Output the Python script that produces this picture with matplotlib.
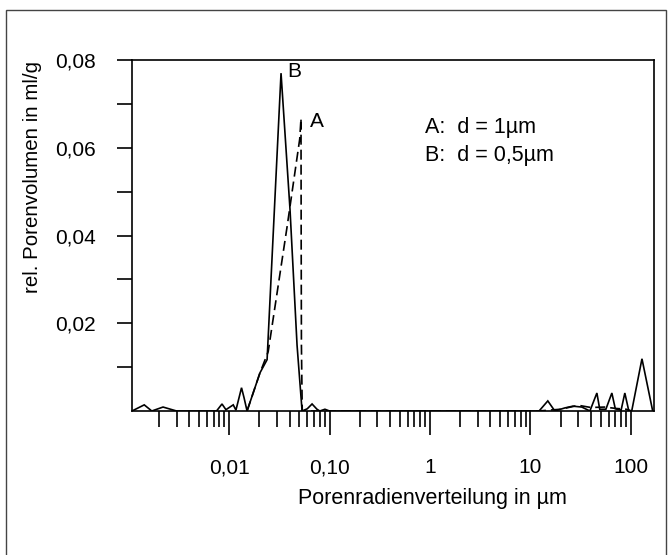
"""
Porenradienverteilung (pore radius distribution) for two particle sizes.
"""

import matplotlib
matplotlib.use("Agg")
import matplotlib.pyplot as plt
from matplotlib.ticker import FixedLocator, FixedFormatter, LogLocator, NullFormatter
from matplotlib.patches import Rectangle

plt.rcParams['font.family'] = ['Liberation Sans', 'DejaVu Sans']

# ----------------- Data -----------------

# Curve B: d = 0,5 µm (solid)
radius_B = [0.00108, 0.00143, 0.0017, 0.0022, 0.003, 0.0075, 0.0085, 0.0093, 0.011, 0.0117,
            0.0133, 0.0141, 0.0151, 0.0203, 0.0239, 0.0329, 0.0404, 0.0475, 0.0533,
            0.06, 0.067, 0.075, 0.08, 0.09, 0.1, 12.2, 14.9, 17.5, 22.0, 26.5, 32.5,
            39.1, 45.9, 49.0, 56.4, 64.7, 70.0, 80.0, 87.1, 95.0, 102.0, 129.0, 165.0]
volume_B = [0.0, 0.0014, 0.0, 0.0009, 0.0, 0.0, 0.0016, 0.0003, 0.0014, 0.0002,
            0.0053, 0.0030, 0.0, 0.0087, 0.0117, 0.0770, 0.0460, 0.0150, 0.0,
            0.0005, 0.0016, 0.0004, 0.0, 0.0004, 0.0, 0.0, 0.0023, 0.0, 0.0007, 0.0011, 0.0009,
            0.0, 0.0041, 0.0004, 0.0004, 0.0041, 0.0005, 0.0002, 0.0041, 0.0002, 0.0, 0.0119, 0.0]

# Curve A: d = 1 µm (dashed)
radius_A = [0.0151, 0.0203, 0.0245, 0.0378, 0.0505, 0.052, 0.0522, 0.0525, 0.0535,
            12.0, 20.0, 30.0, 40.0, 55.0, 70.0, 90.0, 100.0]
volume_A = [0.0, 0.0087, 0.0135, 0.0420, 0.0620, 0.0667, 0.0400, 0.0150, 0.0,
            0.0, 0.0004, 0.0013, 0.0008, 0.0009, 0.0006, 0.0004, 0.0]

x_major = [0.01, 0.1, 1, 10, 100]
x_labels = ["0,01", "0,10", "1", "10", "100"]
y_major = [0.02, 0.04, 0.06, 0.08]
y_labels = ["0,02", "0,04", "0,06", "0,08"]
y_minor = [0.01, 0.03, 0.05, 0.07]

# ----------------- Plot -----------------

fig = plt.figure(figsize=(6.69, 5.55), dpi=100)
ax = fig.add_axes([132 / 669, 144 / 555, 522 / 669, 351 / 555])

ax.plot(radius_B, volume_B, color='black', linewidth=1.2, solid_joinstyle='miter')
ax.plot(radius_A, volume_A, color='black', linewidth=1.2, linestyle=(0, (6, 3)))

ax.set_xscale('log')
ax.set_xlim(0.00108, 170)
ax.set_ylim(0, 0.08)

ax.xaxis.set_major_locator(FixedLocator(x_major))
ax.xaxis.set_major_formatter(FixedFormatter(x_labels))
ax.xaxis.set_minor_locator(LogLocator(base=10, subs=range(2, 10), numticks=20))
ax.xaxis.set_minor_formatter(NullFormatter())
ax.yaxis.set_major_locator(FixedLocator(y_major))
ax.yaxis.set_major_formatter(FixedFormatter(y_labels))
ax.yaxis.set_minor_locator(FixedLocator(y_minor))

ax.tick_params(axis='x', which='major', direction='out', length=17, width=1.2, pad=17, labelsize=15)
ax.tick_params(axis='x', which='minor', direction='out', length=11.5, width=1.2)
ax.tick_params(axis='y', which='both', direction='out', length=11, width=1.2, pad=15, labelsize=15)

for spine in ax.spines.values():
    spine.set_linewidth(1.2)

ax.set_xlabel('Porenradienverteilung in µm', fontsize=15.5, va='center')
ax.xaxis.set_label_coords(0.575, -0.248)
ax.set_ylabel('rel. Porenvolumen in ml/g', fontsize=14.8, va='center')
ax.yaxis.set_label_coords(-0.19, 0.667)

# curve labels and legend text
ax.text(0.064, 0.066, 'A', fontsize=15, ha='left', va='center')
ax.text(0.0378, 0.0774, 'B', fontsize=15, ha='left', va='center')
ax.text(0.561, 0.809, 'A:  d = 1µm', fontsize=15.5, transform=ax.transAxes, va='center')
ax.text(0.561, 0.729, 'B:  d = 0,5µm', fontsize=15.5, transform=ax.transAxes, va='center')

# page frame around the figure
fig.patches.append(Rectangle((6 / 669, -0.05), 660 / 669, 1.05 - 10 / 555, transform=fig.transFigure,
                             fill=False, edgecolor='#444444', linewidth=1.0))

fig.savefig('out.png', dpi=100)
